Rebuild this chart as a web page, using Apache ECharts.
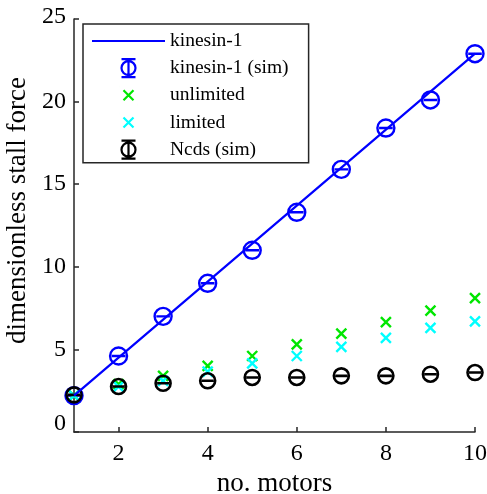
<!DOCTYPE html>
<html><head><meta charset="utf-8">
<script src="https://cdn.jsdelivr.net/npm/echarts@6/dist/echarts.min.js"></script>
<style>html,body{margin:0;padding:0;background:#fff}#c{width:487px;height:494px}</style>
</head><body><div id="c"></div><script>
const motors = [1, 2, 3, 4, 5, 6, 7, 8, 9, 10];
const kinesinTheory = [2.2, 4.5, 6.8, 9.1, 11.4, 13.7, 16.0, 18.3, 20.6, 22.9];
const kinesinSim = [2.2, 4.6, 7.0, 9.0, 11.0, 13.3, 15.9, 18.4, 20.1, 22.9];
const unlimited = [2.2, 2.9, 3.4, 4.0, 4.6, 5.3, 5.95, 6.65, 7.35, 8.1];
const limited = [2.2, 2.75, 3.1, 3.65, 4.15, 4.6, 5.15, 5.7, 6.3, 6.7];
const ncdsSim = [2.25, 2.75, 2.95, 3.1, 3.3, 3.3, 3.4, 3.4, 3.5, 3.6];
const xTicks = [2, 4, 6, 8, 10];
const seriesNames = ['kinesin-1', 'kinesin-1 (sim)', 'unlimited', 'limited', 'Ncds (sim)'];

const FONT = 'Liberation Serif';
const pairs = arr => motors.map((m, i) => [m, arr[i]]);
const circBar = 'path://M0,10A10,10 0 1,0 20,10A10,10 0 1,0 0,10ZM2,10L18,10';
const crossSym = 'path://M0,0L10,10M10,0L0,10';
const phiIcon = 'path://M2,0L16,0M9,0L9,18M2,18L16,18M2,9A7,7 0 1,0 16,9A7,7 0 1,0 2,9Z';
const crossIcon = 'path://M0,0L0.01,0M4,4L14,14M14,4L4,14M18,18L18.01,18';
const mk = (c, w) => ({ color: 'rgba(0,0,0,0)', borderColor: c, borderWidth: w, opacity: 1 });

const chart = echarts.init(document.getElementById('c'));
chart.setOption({
  animation: false,
  backgroundColor: '#fff',
  grid: { left: 74, right: 12, top: 19, bottom: 62, containLabel: false, outerBoundsMode: 'none' },
  legend: {
    left: 83, top: 24, orient: 'vertical',
    padding: [7, 20, 3, 8],
    itemWidth: 73, itemHeight: 18, itemGap: 7,
    borderColor: '#262626', borderWidth: 1.5, backgroundColor: '#fff',
    textStyle: { fontFamily: FONT, fontSize: 19.5, color: '#000' },
    data: [
      { name: seriesNames[0], itemStyle: { color: 'rgba(0,0,0,0)', borderWidth: 0, opacity: 0 } },
      { name: seriesNames[1], icon: phiIcon, itemStyle: mk('#0000ff', 2.2) },
      { name: seriesNames[2], icon: crossIcon, itemStyle: mk('#00e600', 2.2) },
      { name: seriesNames[3], icon: crossIcon, itemStyle: mk('#00ffff', 2.2) },
      { name: seriesNames[4], icon: phiIcon, itemStyle: mk('#000000', 2.2) }
    ]
  },
  xAxis: {
    type: 'value', min: 1, max: 10,
    name: 'no. motors', nameLocation: 'middle', nameGap: 34,
    nameTextStyle: { fontFamily: FONT, fontSize: 27, color: '#000' },
    axisLine: { show: true, lineStyle: { color: '#262626', width: 1.5 } },
    axisTick: { show: true, inside: true, length: 5, customValues: xTicks, lineStyle: { color: '#262626', width: 1.5 } },
    axisLabel: { customValues: xTicks, fontFamily: FONT, fontSize: 24, color: '#000', margin: 10 },
    splitLine: { show: false }
  },
  yAxis: {
    type: 'value', min: 0, max: 25, interval: 5,
    name: 'dimensionless stall force', nameLocation: 'middle', nameGap: 38,
    nameTextStyle: { fontFamily: FONT, fontSize: 27, color: '#000', padding: [0, 0, 0, 30] },
    axisLine: { show: true, lineStyle: { color: '#262626', width: 1.5 } },
    axisTick: { show: true, inside: true, length: 5, lineStyle: { color: '#262626', width: 1.5 } },
    axisLabel: {
      fontFamily: FONT, fontSize: 24, color: '#000', margin: 8,
      formatter: v => v === 0 ? '{a|0}' : (v === 25 ? '{b|25}' : String(v)),
      rich: {
        a: { fontFamily: FONT, fontSize: 24, color: '#000', padding: [0, 0, 17, 0] },
        b: { fontFamily: FONT, fontSize: 24, color: '#000', padding: [0, 0, 5, 0] }
      }
    },
    splitLine: { show: false }
  },
  series: [
    { name: seriesNames[0], type: 'line', data: pairs(kinesinTheory), symbol: 'none',
      lineStyle: { color: '#0000ff', width: 2.2 }, itemStyle: { color: '#0000ff' } },
    { name: seriesNames[1], type: 'scatter', data: pairs(kinesinSim), symbol: circBar, symbolSize: 17,
      itemStyle: mk('#0000ff', 2.4) },
    { name: seriesNames[2], type: 'scatter', data: pairs(unlimited), symbol: crossSym, symbolSize: 10,
      itemStyle: mk('#00e600', 2.4) },
    { name: seriesNames[3], type: 'scatter', data: pairs(limited), symbol: crossSym, symbolSize: 10,
      itemStyle: mk('#00ffff', 2.4) },
    { name: seriesNames[4], type: 'scatter', data: pairs(ncdsSim), symbol: circBar, symbolSize: 15,
      itemStyle: mk('#000000', 2.6) }
  ]
});
</script></body></html>
